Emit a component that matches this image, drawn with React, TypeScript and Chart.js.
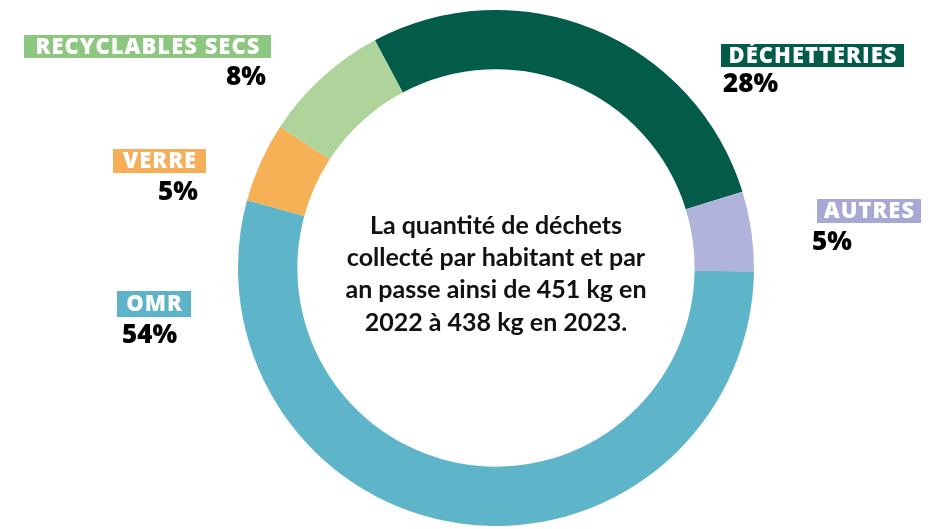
import React, { useEffect, useRef } from "react";
import { Chart, registerables } from "chart.js";

Chart.register(...registerables);

const categories = ["DÉCHETTERIES", "AUTRES", "OMR", "VERRE", "RECYCLABLES SECS"];
const shares = [28, 5, 54, 5, 8];
const centerLines = [
  "La quantité de déchets",
  "collecté par habitant et par",
  "an passe ainsi de 451 kg en",
  "2022 à 438 kg en 2023.",
];

const segmentColors = ["#035B4A", "#B0B3DC", "#5EB4C8", "#F6B056", "#AED49B"];
const boxColors = ["#035B4A", "#A9A7D6", "#5DB4C8", "#F6AE58", "#8DC67F"];
// label layout: box left/top/right/bottom, percent anchor x, percent center y, align
const labelLayout = [
  { x1: 721, y1: 44, x2: 904, y2: 67, px: 723, py: 85, align: "left" },
  { x1: 817, y1: 199, x2: 921, y2: 223, px: 812, py: 243, align: "left" },
  { x1: 117, y1: 291, x2: 191, y2: 317, px: 122, py: 336, align: "left" },
  { x1: 113, y1: 149, x2: 206, y2: 173, px: 198, py: 193, align: "right" },
  { x1: 24, y1: 35, x2: 271, y2: 58, px: 266, py: 78, align: "right" },
];

const LABEL_FONT = "'Open Sans', Lato, sans-serif";
const FONT = "Lato, 'Open Sans', sans-serif";

const labelsPlugin = {
  id: "sideLabels",
  afterDraw(chart: any) {
    const ctx = chart.ctx as any;
    ctx.save();
    categories.forEach((name, i) => {
      const l = labelLayout[i];
      ctx.fillStyle = boxColors[i];
      ctx.fillRect(l.x1, l.y1, l.x2 - l.x1, l.y2 - l.y1);
      ctx.fillStyle = "#ffffff";
      ctx.font = `800 22px ${LABEL_FONT}`;
      ctx.letterSpacing = "1px";
      ctx.textAlign = "center";
      ctx.textBaseline = "middle";
      ctx.fillText(name, (l.x1 + l.x2) / 2 + 0.5, (l.y1 + l.y2) / 2 + 1);
      ctx.letterSpacing = "0px";
      ctx.fillStyle = "#000000";
      ctx.font = `800 26px ${LABEL_FONT}`;
      ctx.textAlign = l.align;
      ctx.fillText(`${shares[i]}%`, l.px, l.py);
    });
    const meta = chart.getDatasetMeta(0);
    const arc = meta.data[0];
    const cx = arc.x;
    ctx.font = `bold 25px ${FONT}`;
    ctx.textAlign = "center";
    ctx.textBaseline = "middle";
    ctx.fillStyle = "#111111";
    const lh = 32.3;
    const start = 274 - (lh * (centerLines.length - 1)) / 2;
    centerLines.forEach((t, i) => ctx.fillText(t, cx, start + i * lh));
    ctx.restore();
  },
};

export default function App() {
  const ref = useRef<HTMLCanvasElement>(null);
  useEffect(() => {
    if (!ref.current) return;
    const chart = new Chart(ref.current, {
      type: "doughnut",
      data: {
        labels: categories,
        datasets: [
          {
            data: shares,
            backgroundColor: segmentColors,
            borderWidth: 0,
          },
        ],
      },
      options: {
        animation: false,
        responsive: false,
        rotation: -28,
        cutout: "77%",
        layout: { padding: { top: 10, bottom: 3, left: 238, right: 177 } },
        plugins: { legend: { display: false }, tooltip: { enabled: false } },
      },
      plugins: [labelsPlugin],
    });
    return () => chart.destroy();
  }, []);
  return (
    <div style={{ position: "absolute", left: 0, top: 0, width: 931, height: 529, background: "#fff" }}>
      <canvas ref={ref} width={931} height={529} style={{ display: "block" }} />
    </div>
  );
}
